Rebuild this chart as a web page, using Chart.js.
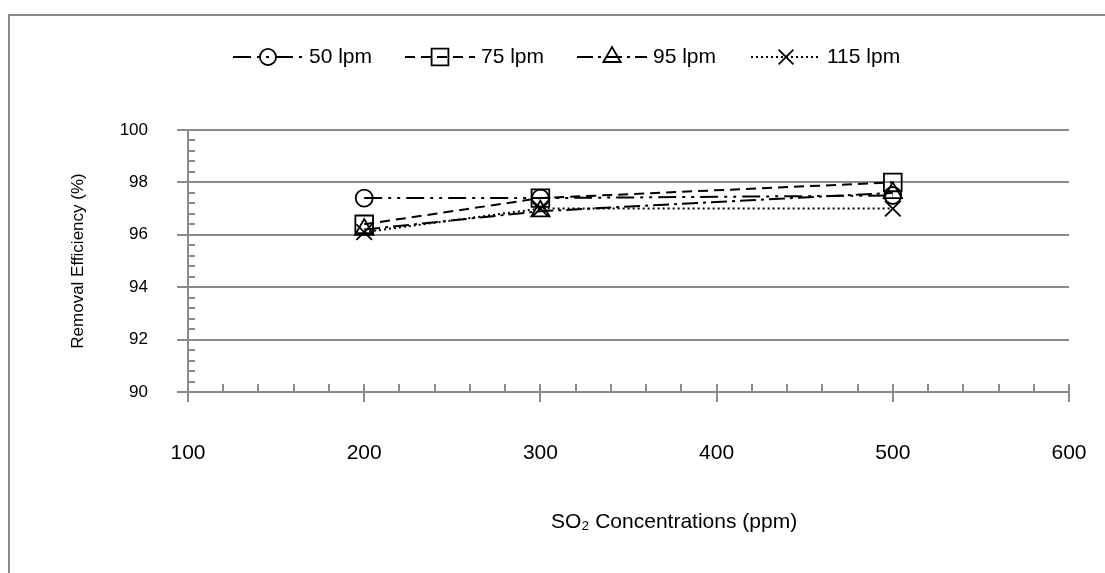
<!DOCTYPE html>
<html>
<head>
<meta charset="utf-8">
<script src="https://cdn.jsdelivr.net/npm/chart.js@4.4.0/dist/chart.umd.min.js"></script>
<style>
  html, body { margin: 0; padding: 0; background: #fff; }
</style>
</head>
<body>
<canvas id="chart" width="1105" height="573"></canvas>
<script>
// datos
const concentrations = [200, 300, 500];
const flowLabels = ['50 lpm', '75 lpm', '95 lpm', '115 lpm'];
const eff50 = [97.4, 97.4, 97.5];
const eff75 = [96.4, 97.4, 98.0];
const eff95 = [96.2, 96.9, 97.6];
const eff115 = [96.1, 97.0, 97.0];
const xTicks = [100, 200, 300, 400, 500, 600];
const yTicks = [90, 92, 94, 96, 98, 100];
const xTitle = 'SO\u2082 Concentrations (ppm)';
const yTitle = 'Removal Efficiency (%)';

const gray = '#8a8a8a';
const fontFamily = '"Liberation Sans", Arial, sans-serif';

const toPoints = (vals) => concentrations.map((c, i) => ({x: c, y: vals[i]}));

const seriesStyles = [
  {dash: [18, 6, 3, 6, 3, 6], pointStyle: 'circle', radius: 8.5},
  {dash: [10, 6], pointStyle: 'rect', radius: 12.5},
  {dash: [16, 5, 3, 5], pointStyle: 'triangle', radius: 10.5},
  {dash: [2, 3], pointStyle: 'crossRot', radius: 11}
];
const allValues = [eff50, eff75, eff95, eff115];

const datasets = allValues.map((vals, i) => ({
  label: flowLabels[i],
  data: toPoints(vals),
  borderColor: '#000',
  borderWidth: 2,
  borderDash: seriesStyles[i].dash,
  tension: 0,
  pointStyle: seriesStyles[i].pointStyle,
  pointRadius: seriesStyles[i].radius,
  pointBorderColor: '#000',
  pointBackgroundColor: 'rgba(0,0,0,0)',
  pointBorderWidth: 1.8,
  fill: false
}));

// marco gris arriba/izquierda
const framePlugin = {
  id: 'frame',
  beforeDraw(chart) {
    const ctx = chart.ctx;
    ctx.save();
    ctx.strokeStyle = gray;
    ctx.lineWidth = 2;
    ctx.beginPath();
    ctx.moveTo(9, 573);
    ctx.lineTo(9, 15);
    ctx.lineTo(1105, 15);
    ctx.stroke();
    ctx.restore();
  }
};

// marcas menores hacia adentro
const minorTicks = {
  id: 'minorTicks',
  beforeDatasetsDraw(chart) {
    const {ctx, scales: {x, y}} = chart;
    ctx.save();
    ctx.strokeStyle = gray;
    ctx.lineWidth = 2;
    ctx.beginPath();
    for (let k = 0; k <= 25; k++) {
      const px = Math.round(x.getPixelForValue(100 + k * 20));
      ctx.moveTo(px, y.bottom);
      ctx.lineTo(px, y.bottom - 8);
    }
    for (let k = 1; k < 25; k++) {
      if (k % 5 === 0) continue;
      const py = Math.round(y.getPixelForValue(90 + k * 0.4));
      ctx.moveTo(x.left, py);
      ctx.lineTo(x.left + 7, py);
    }
    ctx.stroke();
    ctx.restore();
  }
};

// titulo del eje x (algo corrido a la derecha como en el original)
const xTitlePlugin = {
  id: 'xTitle',
  afterDraw(chart) {
    const ctx = chart.ctx;
    ctx.save();
    ctx.fillStyle = '#000';
    ctx.font = '21px ' + fontFamily;
    ctx.textAlign = 'center';
    ctx.textBaseline = 'middle';
    ctx.fillText(xTitle, 674, 522);
    ctx.restore();
  }
};

const drawMarker = (ctx, style, r, cx, cy) => {
  ctx.beginPath();
  if (style === 'circle') {
    ctx.arc(cx, cy, r, 0, Math.PI * 2);
  } else if (style === 'rect') {
    const s = r * Math.SQRT1_2;
    ctx.rect(cx - s, cy - s, 2 * s, 2 * s);
  } else if (style === 'triangle') {
    for (let j = 0; j < 3; j++) {
      const a = j * 2 * Math.PI / 3;
      const px = cx + Math.sin(a) * r, py = cy - Math.cos(a) * r;
      j === 0 ? ctx.moveTo(px, py) : ctx.lineTo(px, py);
    }
    ctx.closePath();
  } else {
    const d = r * Math.SQRT1_2;
    ctx.moveTo(cx - d, cy - d); ctx.lineTo(cx + d, cy + d);
    ctx.moveTo(cx + d, cy - d); ctx.lineTo(cx - d, cy + d);
  }
  ctx.stroke();
};

// leyenda a mano: linea + marcador + texto
const legendPlugin = {
  id: 'customLegend',
  afterDraw(chart) {
    const ctx = chart.ctx;
    const starts = [233, 405, 577, 751];
    const ly = 57;
    ctx.save();
    chart.data.datasets.forEach((ds, i) => {
      const x0 = starts[i];
      ctx.strokeStyle = '#000';
      ctx.lineWidth = 2;
      ctx.setLineDash(ds.borderDash);
      ctx.beginPath();
      ctx.moveTo(x0, ly);
      ctx.lineTo(x0 + 70, ly);
      ctx.stroke();
      ctx.setLineDash([]);
      ctx.lineWidth = 1.8;
      drawMarker(ctx, ds.pointStyle, ds.pointRadius * 0.95, x0 + 35, ly);
      ctx.fillStyle = '#000';
      ctx.font = '21px ' + fontFamily;
      ctx.textBaseline = 'middle';
      ctx.textAlign = 'left';
      ctx.fillText(ds.label, x0 + 76, ly);
    });
    ctx.restore();
  }
};

new Chart(document.getElementById('chart').getContext('2d'), {
  type: 'line',
  data: {datasets: datasets},
  options: {
    responsive: false,
    animation: false,
    devicePixelRatio: 1,
    layout: {padding: {left: 64, right: 36, top: 130, bottom: 37}},
    plugins: {
      legend: {display: false},
      tooltip: {enabled: false}
    },
    scales: {
      x: {
        type: 'linear',
        min: 100,
        max: 600,
        afterBuildTicks: (scale) => { scale.ticks = xTicks.map(v => ({value: v})); },
        afterFit: (scale) => { scale.height = 144; scale.paddingLeft = 0; scale.paddingRight = 0; },
        grid: {drawOnChartArea: false, color: gray, lineWidth: 2, tickLength: 10},
        border: {color: gray, width: 2},
        ticks: {color: '#000', font: {family: fontFamily, size: 21}, padding: 39, maxRotation: 0},
        title: {display: false}
      },
      y: {
        type: 'linear',
        min: 90,
        max: 100,
        afterBuildTicks: (scale) => { scale.ticks = yTicks.map(v => ({value: v})); },
        afterFit: (scale) => { scale.width = 124; scale.paddingTop = 0; scale.paddingBottom = 0; },
        grid: {color: gray, lineWidth: 2, tickLength: 11},
        border: {color: gray, width: 2},
        ticks: {color: '#000', font: {family: fontFamily, size: 17}, padding: 29},
        title: {display: true, text: yTitle, color: '#000', font: {family: fontFamily, size: 17}, padding: {top: 4, bottom: 4}}
      }
    }
  },
  plugins: [framePlugin, minorTicks, xTitlePlugin, legendPlugin]
});
</script>
</body>
</html>
